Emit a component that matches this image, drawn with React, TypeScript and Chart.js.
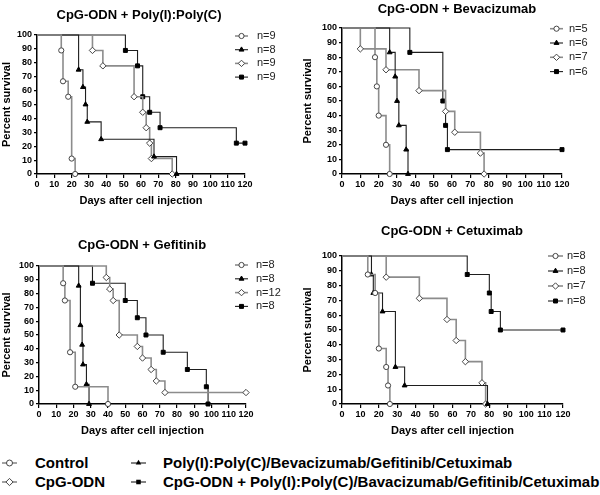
import React, { useEffect, useRef } from 'react';
import { Chart, registerables } from 'chart.js';
Chart.register(...registerables);

// ---------- DATA (days, percent survival) ----------
// Panel 1: CpG-ODN + Poly(I):Poly(C)
const p1CtrlT = [0, 14, 15, 18, 20, 22];
const p1CtrlS = [100, 88.9, 66.7, 55.6, 11.1, 0];
const p1DrugT = [0, 24, 26.5, 28, 29, 37, 67.5, 80.5];
const p1DrugS = [100, 75, 62.5, 50, 37.5, 25, 12.5, 0];
const p1CpgT = [0, 32, 38, 56, 61, 63, 65, 66, 78];
const p1CpgS = [100, 88.9, 77.8, 55.6, 44.4, 33.3, 22.2, 11.1, 0];
const p1ComboT = [0, 51, 58, 61, 65, 71, 115, 120];
const p1ComboS = [100, 88.9, 77.8, 55.6, 44.4, 33.3, 22.2, 22.2];
const p1N = ['n=9', 'n=8', 'n=9', 'n=9'];

// Panel 2: CpG-ODN + Bevacizumab
const p2CtrlT = [0, 18, 19, 20, 24, 26];
const p2CtrlS = [100, 80, 60, 40, 20, 0];
const p2DrugT = [0, 26, 29, 30, 31, 35, 36];
const p2DrugS = [100, 83.3, 66.7, 50, 33.3, 16.7, 0];
const p2CpgT = [0, 10, 24, 42, 56.5, 61.5, 75.5, 77.5];
const p2CpgS = [100, 85.7, 71.4, 57.1, 42.9, 28.6, 14.3, 0];
const p2ComboT = [0, 37, 55, 56.5, 57.5, 120];
const p2ComboS = [100, 83.3, 50, 33.3, 16.7, 16.7];
const p2N = ['n=5', 'n=6', 'n=7', 'n=6'];

// Panel 3: CpG-ODN + Gefitinib
const p3CtrlT = [0, 14, 15, 18, 21, 40];
const p3CtrlS = [100, 87.5, 75, 37.5, 12.5, 0];
const p3DrugT = [0, 23, 24, 25, 25.5, 27.5, 29];
const p3DrugS = [100, 85.7, 57.1, 42.9, 28.6, 14.3, 0];
const p3CpgT = [0, 39, 41, 43, 46.5, 57, 60, 65, 68, 73, 120];
const p3CpgS = [100, 91.7, 83.3, 75, 50, 41.7, 33.3, 25, 16.7, 8.3, 8.3];
const p3ComboT = [0, 31, 50, 57, 62, 72, 86, 97, 98];
const p3ComboS = [100, 87.5, 75, 62.5, 50, 37.5, 25, 12.5, 0];
const p3N = ['n=8', 'n=8', 'n=12', 'n=8'];

// Panel 4: CpG-ODN + Cetuximab
const p4CtrlT = [0, 14, 18, 20, 24, 25, 26];
const p4CtrlS = [100, 87.5, 75, 37.5, 25, 12.5, 0];
const p4DrugT = [0, 16, 17, 22, 29, 34, 79];
const p4DrugS = [100, 87.5, 75, 62.5, 25, 12.5, 0];
const p4CpgT = [0, 24, 42, 57, 62, 67, 76, 78];
const p4CpgS = [100, 85.7, 71.4, 57.1, 42.9, 28.6, 14.3, 0];
const p4ComboT = [0, 68, 80, 81, 86, 120];
const p4ComboS = [100, 87.5, 75, 62.5, 50, 50];
const p4N = ['n=8', 'n=8', 'n=7', 'n=8'];

const titles = ['CpG-ODN + Poly(I):Poly(C)', 'CpG-ODN + Bevacizumab', 'CpG-ODN + Gefitinib', 'CpG-ODN + Cetuximab'];
const xTitle = 'Days after cell injection';
const yTitle = 'Percent survival';
// group names in series order: circle, triangle, diamond, square
const groupNames = ['Control', 'Poly(I):Poly(C)/Bevacizumab/Gefitinib/Cetuximab', 'CpG-ODN', 'CpG-ODN + Poly(I):Poly(C)/Bavacizumab/Gefitinib/Cetuximab'];

// ---------- STYLES ----------
const FONT = '"Liberation Sans", Arial, Helvetica, sans-serif';
const GRAY = '#8c8c8c';
const DARK = '#1e1e1e';
type Marker = 'circle' | 'triangle' | 'rectRot' | 'rect';
const styles: { marker: Marker; line: string; lw: number; fill: string; edge: string; r: number }[] = [
  { marker: 'circle', line: GRAY, lw: 1.6, fill: '#fff', edge: '#444', r: 2.6 },
  { marker: 'triangle', line: DARK, lw: 1.1, fill: '#000', edge: '#000', r: 2.8 },
  { marker: 'rectRot', line: GRAY, lw: 1.6, fill: '#fff', edge: '#444', r: 3.2 },
  { marker: 'rect', line: DARK, lw: 1.1, fill: '#000', edge: '#000', r: 2.8 },
];

type PanelCfg = {
  x: number; y: number; w: number; h: number;
  left: number; right: number; top: number; bottom: number; yTitleX: number;
  title: string; titleX: number; titleY: number;
  legX0: number; legX1: number; legTextX: number; legY0: number; legDy: number;
  series: number[][][]; n: string[];
};

const panels: PanelCfg[] = [
  { x: 0, y: 0, w: 300, h: 215, left: 37, right: 245, top: 35, bottom: 174, yTitleX: 6,
    title: titles[0], titleX: 139, titleY: 15,
    legX0: 235, legX1: 248, legTextX: 257, legY0: 36, legDy: 13.7,
    series: [[p1CtrlT, p1CtrlS], [p1DrugT, p1DrugS], [p1CpgT, p1CpgS], [p1ComboT, p1ComboS]], n: p1N },
  { x: 300, y: 0, w: 300, h: 215, left: 42, right: 262, top: 28, bottom: 174, yTitleX: 8,
    title: titles[1], titleX: 157, titleY: 9,
    legX0: 250, legX1: 263, legTextX: 269, legY0: 28.7, legDy: 14.3,
    series: [[p2CtrlT, p2CtrlS], [p2DrugT, p2DrugS], [p2CpgT, p2CpgS], [p2ComboT, p2ComboS]], n: p2N },
  { x: 0, y: 215, w: 300, h: 225, left: 39, right: 246, top: 51, bottom: 189, yTitleX: 6,
    title: titles[2], titleX: 142, titleY: 30,
    legX0: 235, legX1: 248, legTextX: 256, legY0: 50, legDy: 13.8,
    series: [[p3CtrlT, p3CtrlS], [p3DrugT, p3DrugS], [p3CpgT, p3CpgS], [p3ComboT, p3ComboS]], n: p3N },
  { x: 300, y: 215, w: 300, h: 225, left: 42, right: 263, top: 41, bottom: 189, yTitleX: 8,
    title: titles[3], titleX: 152, titleY: 16,
    legX0: 248, legX1: 263, legTextX: 267, legY0: 41, legDy: 15,
    series: [[p4CtrlT, p4CtrlS], [p4DrugT, p4DrugS], [p4CpgT, p4CpgS], [p4ComboT, p4ComboS]], n: p4N },
];

function drawMarker(ctx: CanvasRenderingContext2D, m: Marker, x: number, y: number, r: number, fill: string, edge: string) {
  ctx.beginPath();
  if (m === 'circle') ctx.arc(x, y, r, 0, Math.PI * 2);
  else if (m === 'triangle') {
    ctx.moveTo(x, y - r);
    ctx.lineTo(x + r * 0.87, y + r * 0.5);
    ctx.lineTo(x - r * 0.87, y + r * 0.5);
    ctx.closePath();
  } else if (m === 'rectRot') {
    ctx.moveTo(x, y - r); ctx.lineTo(x + r, y); ctx.lineTo(x, y + r); ctx.lineTo(x - r, y); ctx.closePath();
  } else {
    const s = r * 0.71;
    ctx.rect(x - s, y - s, 2 * s, 2 * s);
  }
  ctx.fillStyle = fill; ctx.fill();
  ctx.lineWidth = 1; ctx.strokeStyle = edge; ctx.stroke();
}

function Panel({ cfg }: { cfg: PanelCfg }) {
  const ref = useRef<HTMLCanvasElement>(null);
  useEffect(() => {
    const HX = 34;
    const pl = Math.max(0, cfg.yTitleX - 6.6);
    const wy = cfg.left - pl;
    const decor = {
      id: 'decor',
      afterDraw(chart: any) {
        const ctx: CanvasRenderingContext2D = chart.ctx;
        ctx.save();
        ctx.font = `bold 13px ${FONT}`;
        ctx.fillStyle = '#000';
        ctx.textAlign = 'center';
        ctx.textBaseline = 'middle';
        ctx.fillText(cfg.title, cfg.titleX, cfg.titleY);
        cfg.n.forEach((lab, i) => {
          const st = styles[i];
          const yy = cfg.legY0 + i * cfg.legDy;
          ctx.beginPath();
          ctx.moveTo(cfg.legX0, yy); ctx.lineTo(cfg.legX1, yy);
          ctx.strokeStyle = st.line; ctx.lineWidth = st.lw; ctx.stroke();
          drawMarker(ctx, st.marker, (cfg.legX0 + cfg.legX1) / 2, yy, st.r, st.fill, st.edge);
          ctx.font = `11px ${FONT}`;
          ctx.fillStyle = '#222';
          ctx.textAlign = 'left';
          ctx.fillText(lab, cfg.legTextX, yy);
        });
        ctx.restore();
      },
    };
    const datasets = cfg.series.map(([t, s], i) => {
      const st = styles[i];
      return {
        label: groupNames[i],
        data: t.map((x, k) => ({ x, y: s[k] })),
        stepped: 'before' as const,
        borderColor: st.line,
        borderWidth: st.lw,
        fill: false,
        pointStyle: st.marker,
        pointRadius: (c: any) => (c.dataIndex === 0 ? 0 : st.r),
        pointBackgroundColor: st.fill,
        pointBorderColor: st.edge,
        pointBorderWidth: 1,
        clip: false as const,
      };
    });
    const tickFont = { family: FONT, size: 9, weight: 'bold' as const };
    const titleFont = { family: FONT, size: 11, weight: 'bold' as const };
    const chart = new Chart(ref.current!, {
      type: 'line',
      data: { datasets },
      options: {
        responsive: false,
        animation: false,
        devicePixelRatio: 1,
        events: [],
        layout: { padding: { left: pl, right: cfg.w - cfg.right, top: cfg.top, bottom: cfg.h - cfg.bottom - HX } },
        plugins: { legend: { display: false }, title: { display: false }, tooltip: { enabled: false } },
        scales: {
          x: {
            type: 'linear', min: 0, max: 120,
            ticks: { stepSize: 10, autoSkip: false, maxRotation: 0, minRotation: 0, font: tickFont, color: '#000', padding: 1 },
            grid: { drawOnChartArea: false, drawTicks: true, tickLength: 4, color: '#000', lineWidth: 1.2 },
            border: { display: true, color: '#000', width: 1.5 },
            title: { display: true, text: xTitle, font: titleFont, color: '#000', padding: 0 },
            afterFit: (sc: any) => { sc.height = HX; },
          },
          y: {
            type: 'linear', min: 0, max: 100,
            ticks: { stepSize: 10, font: tickFont, color: '#000', padding: 2 },
            grid: { drawOnChartArea: false, drawTicks: true, tickLength: 3, color: '#000', lineWidth: 1.2 },
            border: { display: true, color: '#000', width: 1.5 },
            title: { display: true, text: yTitle, font: titleFont, color: '#000', padding: 0 },
            afterFit: (sc: any) => { sc.width = wy; },
          },
        },
      },
      plugins: [decor],
    } as any);
    return () => chart.destroy();
  }, []);
  return (
    <canvas ref={ref} width={cfg.w} height={cfg.h}
      style={{ position: 'absolute', left: cfg.x, top: cfg.y, width: cfg.w, height: cfg.h }} />
  );
}

function Icon({ i }: { i: number }) {
  const st = styles[i];
  const cx = 7.5, cy = 6, r = st.r + 0.4;
  let shape: React.ReactNode;
  if (st.marker === 'circle') shape = <circle cx={cx} cy={cy} r={r} fill={st.fill} stroke={st.edge} strokeWidth={1} />;
  else if (st.marker === 'triangle') shape = <polygon points={`${cx},${cy - r} ${cx + r * 0.87},${cy + r * 0.5} ${cx - r * 0.87},${cy + r * 0.5}`} fill={st.fill} />;
  else if (st.marker === 'rectRot') shape = <polygon points={`${cx},${cy - r} ${cx + r},${cy} ${cx},${cy + r} ${cx - r},${cy}`} fill={st.fill} stroke={st.edge} strokeWidth={1} />;
  else shape = <rect x={cx - r * 0.71} y={cy - r * 0.71} width={r * 1.42} height={r * 1.42} fill={st.fill} />;
  return (
    <svg width={15} height={12} style={{ position: 'absolute', left: 0, top: -6 }}>
      <line x1={0} y1={cy} x2={15} y2={cy} stroke={st.line} strokeWidth={st.lw} />
      {shape}
    </svg>
  );
}

// bottom legend placement, in series order
const legendPos = [
  { iconX: 2, textX: 35, y: 463 },
  { iconX: 131, textX: 163, y: 463 },
  { iconX: 2, textX: 35, y: 482 },
  { iconX: 131, textX: 163, y: 482 },
];

export default function App() {
  return (
    <div style={{ position: 'fixed', left: 0, top: 0, width: 600, height: 495, background: '#fff', overflow: 'hidden' }}>
      {panels.map((p, i) => <Panel key={i} cfg={p} />)}
      {groupNames.map((g, i) => (
        <div key={g}>
          <div style={{ position: 'absolute', left: legendPos[i].iconX, top: legendPos[i].y }}><Icon i={i} /></div>
          <div style={{ position: 'absolute', left: legendPos[i].textX, top: legendPos[i].y - 9, font: `bold 15px ${FONT}`, lineHeight: '18px', color: '#000', whiteSpace: 'nowrap' }}>{g}</div>
        </div>
      ))}
    </div>
  );
}
